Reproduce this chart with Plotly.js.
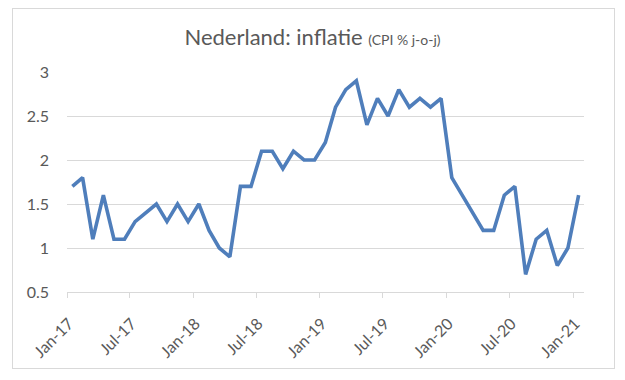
<!DOCTYPE html>
<html>
<head>
<meta charset="utf-8">
<script src="https://cdn.plot.ly/plotly-3.0.1.min.js"></script>
<style>
  html, body { margin: 0; padding: 0; background: #fff; }
  #wrap { position: relative; width: 625px; height: 380px; }
  #chart { width: 625px; height: 380px; }
  #frame { position: absolute; left: 12px; top: 8px; width: 601px; height: 359px;
           border: 1px solid #D9D9D9; pointer-events: none; }
</style>
</head>
<body>
<div id="wrap">
  <div id="chart"></div>
  <div id="frame"></div>
</div>
<script>
// Monthly CPI % year-on-year, Jan-2017 .. Jan-2021
const startYear = 2017;
const inflation = [
  1.7, 1.8, 1.1, 1.6, 1.1, 1.1, 1.3, 1.4, 1.5, 1.3, 1.5, 1.3,   // 2017
  1.5, 1.2, 1.0, 0.9, 1.7, 1.7, 2.1, 2.1, 1.9, 2.1, 2.0, 2.0,   // 2018
  2.2, 2.6, 2.8, 2.9, 2.4, 2.7, 2.5, 2.8, 2.6, 2.7, 2.6, 2.7,   // 2019
  1.8, 1.6, 1.4, 1.2, 1.2, 1.6, 1.7, 0.7, 1.1, 1.2, 0.8, 1.0,   // 2020
  1.6                                                           // 2021
];
const tickDates = ["2017-01-01","2017-07-01","2018-01-01","2018-07-01","2019-01-01",
                   "2019-07-01","2020-01-01","2020-07-01","2021-01-01"];
const tickLabels = ["Jan-17","Jul-17","Jan-18","Jul-18","Jan-19","Jul-19","Jan-20","Jul-20","Jan-21"];
const yTicks = [0.5, 1, 1.5, 2, 2.5, 3];
const yTickLabels = ["0.5", "1", "1.5", "2", "2.5", "3"];

const months = inflation.map((_, i) => {
  const y = startYear + Math.floor(i / 12);
  const m = (i % 12) + 1;
  return y + "-" + String(m).padStart(2, "0") + "-01";
});

const textColor = "#595959";
const gridColor = "#D9D9D9";
const font = "Lato, 'Open Sans', sans-serif";

Plotly.newPlot("chart", [{
  type: "scatter",
  mode: "lines",
  x: months,
  y: inflation,
  xperiod: "M1",
  xperiodalignment: "middle",
  line: { color: "#4F7EBB", width: 3.6 },
  hoverinfo: "x+y"
}], {
  width: 625,
  height: 380,
  margin: { l: 67, r: 41, t: 72, b: 88 },
  paper_bgcolor: "#fff",
  plot_bgcolor: "#fff",
  showlegend: false,
  font: { family: font, color: textColor, size: 16 },
  title: {
    text: "Nederland: inflatie <span style='font-size:14px'>(CPI % j-o-j)</span>",
    font: { family: font, size: 22, color: textColor },
    x: 0.5, xanchor: "center",
    y: 1 - 37 / 380, yref: "container", yanchor: "middle"
  },
  xaxis: {
    type: "date",
    range: ["2017-01-01", "2021-02-01"],
    tickvals: tickDates,
    ticktext: tickLabels,
    tickangle: -45,
    ticks: "outside",
    ticklen: 5,
    tickcolor: gridColor,
    tickwidth: 1,
    showline: true,
    linecolor: gridColor,
    linewidth: 1,
    showgrid: false,
    zeroline: false,
    tickfont: { family: font, size: 16, color: textColor },
    ticklabelshift: 2,
    ticklabelstandoff: 10,
    fixedrange: true
  },
  yaxis: {
    range: [0.5, 3],
    tickvals: yTicks,
    ticktext: yTickLabels,
    showgrid: true,
    gridcolor: gridColor,
    gridwidth: 1,
    zeroline: false,
    showline: false,
    ticks: "",
    ticklabelstandoff: 17,
    tickfont: { family: font, size: 16, color: textColor },
    fixedrange: true
  }
}, { displayModeBar: false, staticPlot: true });
</script>
</body>
</html>
